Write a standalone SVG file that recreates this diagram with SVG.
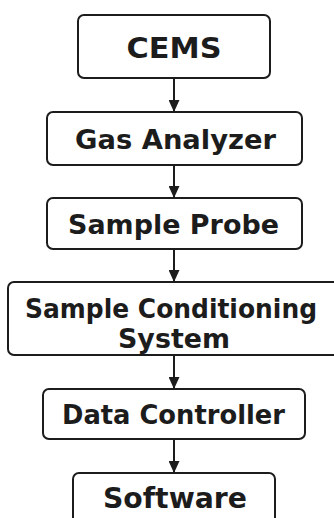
<svg xmlns="http://www.w3.org/2000/svg" width="334" height="518" viewBox="0 0 334 518">
  <style>
    .box { fill: #ffffff; stroke: #1c1c1c; stroke-width: 2; }
    .label { font-family: "DejaVu Sans", "Liberation Sans", sans-serif; font-weight: bold; fill: #1c1c1c; text-anchor: middle; }
    .link { stroke: #1c1c1c; stroke-width: 2; fill: none; marker-end: url(#head); }
  </style>
  <defs>
    <marker id="head" viewBox="0 0 12 11" refX="12" refY="5.5" markerWidth="12" markerHeight="11" markerUnits="userSpaceOnUse" orient="auto">
      <path d="M0,0 L12,5.5 L0,11 Z" fill="#1c1c1c"/>
    </marker>
  </defs>
  <rect width="334" height="518" fill="#ffffff"/>

  <g id="connectors">
    <line class="link" x1="174" y1="79" x2="174" y2="112"/>
    <line class="link" x1="174" y1="166" x2="174" y2="198"/>
    <line class="link" x1="174" y1="250" x2="174" y2="282"/>
    <line class="link" x1="174" y1="356" x2="174" y2="389"/>
    <line class="link" x1="174" y1="440" x2="174" y2="473"/>
  </g>

  <g id="cems">
    <rect class="box" x="78" y="15" width="192" height="63" rx="6"/>
    <text class="label" x="174" y="57.5" font-size="28" textLength="95" lengthAdjust="spacingAndGlyphs">CEMS</text>
  </g>

  <g id="gas-analyzer">
    <rect class="box" x="47" y="112" width="255" height="53" rx="6"/>
    <text class="label" x="175.5" y="149" font-size="26" textLength="201" lengthAdjust="spacingAndGlyphs">Gas Analyzer</text>
  </g>

  <g id="sample-probe">
    <rect class="box" x="47" y="198" width="255" height="51" rx="6"/>
    <text class="label" x="173.5" y="233.5" font-size="26" textLength="211" lengthAdjust="spacingAndGlyphs">Sample Probe</text>
  </g>

  <g id="sample-conditioning">
    <rect class="box" x="8" y="282" width="340" height="73" rx="6"/>
    <text class="label" x="171" y="317.5" font-size="27" textLength="292" lengthAdjust="spacingAndGlyphs">Sample Conditioning</text>
    <text class="label" x="174" y="347.5" font-size="27" textLength="112" lengthAdjust="spacingAndGlyphs">System</text>
  </g>

  <g id="data-controller">
    <rect class="box" x="43" y="389" width="262" height="50" rx="6"/>
    <text class="label" x="173.5" y="423.5" font-size="26" textLength="223" lengthAdjust="spacingAndGlyphs">Data Controller</text>
  </g>

  <g id="software">
    <rect class="box" x="73" y="473" width="202" height="60" rx="6"/>
    <text class="label" x="175" y="507.5" font-size="29" textLength="144" lengthAdjust="spacingAndGlyphs">Software</text>
  </g>
</svg>
